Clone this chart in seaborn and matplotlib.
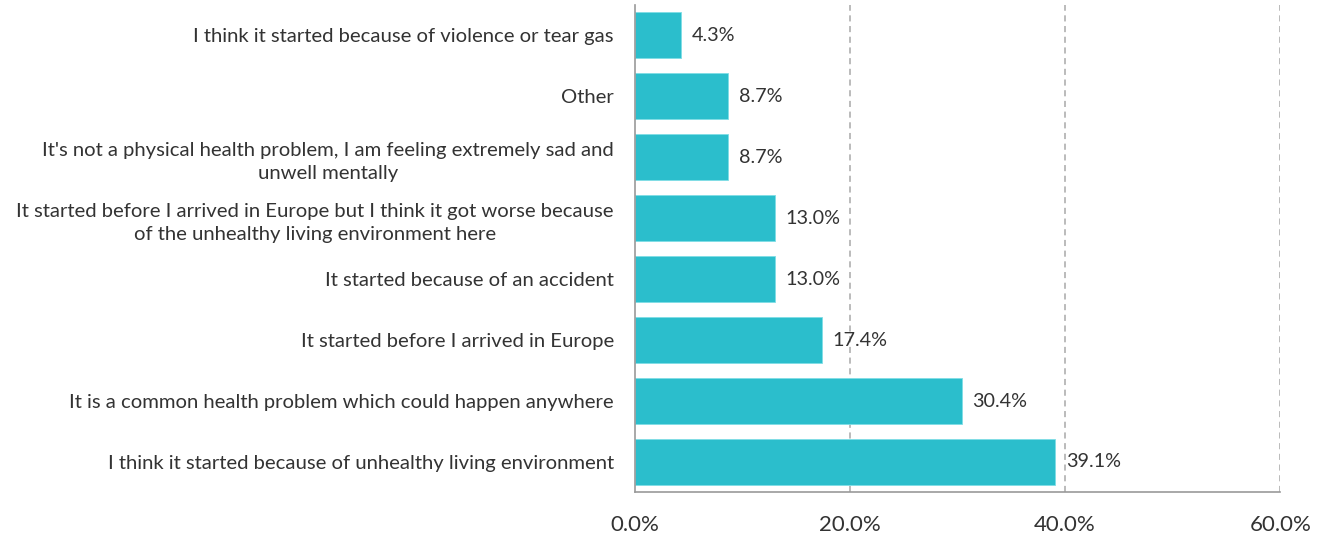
import matplotlib
matplotlib.use("Agg")
import matplotlib.pyplot as plt
import seaborn as sns
import pandas as pd
import numpy as np
from matplotlib.ticker import FixedLocator

categories = [
    "I think it started because of violence or tear gas",
    "Other",
    "It's not a physical health problem, I am feeling extremely sad and\nunwell mentally",
    "It started before I arrived in Europe but I think it got worse because\nof the unhealthy living environment here",
    "It started because of an accident",
    "It started before I arrived in Europe",
    "It is a common health problem which could happen anywhere",
    "I think it started because of unhealthy living environment",
]
values = [4.3, 8.7, 8.7, 13.0, 13.0, 17.4, 30.4, 39.1]
x_ticks = [0, 20, 40, 60]
x_tick_labels = ["0.0%", "20.0%", "40.0%", "60.0%"]

df = pd.DataFrame({"category": categories, "value": values})

sns.set_style("white")
plt.rcParams["font.family"] = ["Lato", "DejaVu Sans"]

fig = plt.figure(figsize=(13.28, 5.37), dpi=100)
ax = fig.add_axes([0.478, 0.083, 0.486, 0.908])

bar_color = "#2BBECC"
text_color = "#333333"
sns.barplot(data=df, x="value", y="category", orient="h", color=bar_color,
            saturation=1, width=0.76, ax=ax, edgecolor="#7fdde5", linewidth=0.6)

ax.set_xlim(0, 60)
ax.set_ylim(len(categories) - 0.5, -0.5)
ax.set_xlabel("")
ax.set_ylabel("")

# gridlines
for xv in x_ticks[1:]:
    ax.axvline(xv, color="#a8a8a8", linestyle=(0, (4, 3)), linewidth=1.1, zorder=0)

ax.set_xticks(x_ticks)
ax.set_xticklabels(x_tick_labels, fontsize=16, color=text_color)
ax.tick_params(axis="x", direction="inout", length=8, width=1, color="#999999", pad=12)

ax.yaxis.set_minor_locator(FixedLocator(np.arange(-0.5, len(categories), 1)))
ax.tick_params(axis="y", which="major", length=0, pad=15)
ax.tick_params(axis="y", which="minor", length=5, width=1, color="#999999", direction="out")
for lbl in ax.get_yticklabels():
    lbl.set_fontsize(14.6)
    lbl.set_color(text_color)
    lbl.set_multialignment("center")
    lbl.set_linespacing(1.45)

for side in ["top", "right"]:
    ax.spines[side].set_visible(False)
for side in ["left", "bottom"]:
    ax.spines[side].set_color("#999999")
    ax.spines[side].set_linewidth(1.2)

for i, v in enumerate(values):
    ax.text(v + 1.0, i, f"{v:.1f}%", va="center", ha="left", fontsize=14.2, color=text_color)

fig.savefig("out.png", dpi=100)
